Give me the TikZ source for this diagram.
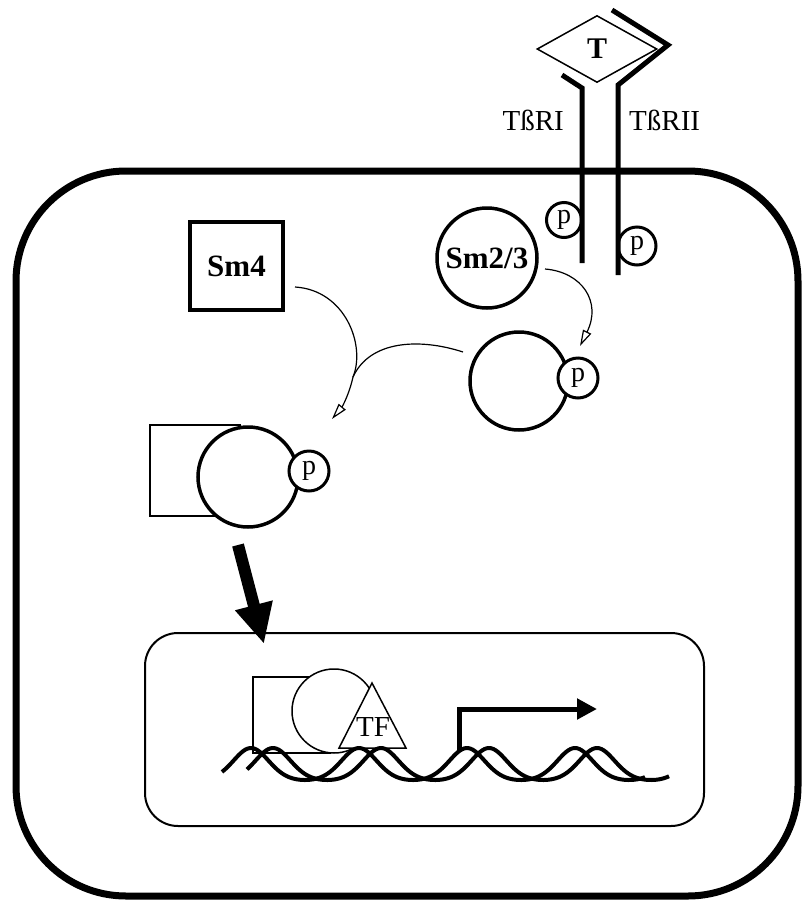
\documentclass[tikz,border=0pt]{standalone}
\usepackage{fontspec}
\setmainfont{Liberation Serif}
\usetikzlibrary{arrows.meta,shapes.geometric}
\begin{document}
\begin{tikzpicture}[x=1pt,y=-1pt,
  cellwall/.style={draw, line width=7pt, rounded corners=110pt, inner sep=0pt},
  nucwall/.style={draw, line width=2pt, rounded corners=33pt, inner sep=0pt},
  receptor/.style={line width=5pt},
  pcirc/.style={circle, draw, line width=3pt, fill=white, minimum size=38pt, inner sep=0pt, font=\fontsize{28}{28}\selectfont},
  smadc/.style={circle, draw, line width=3.5pt, fill=white, minimum size=100pt, inner sep=0pt},
  thinshape/.style={draw, line width=1.5pt, fill=white, inner sep=0pt},
  boldtxt/.style={font=\bfseries\fontsize{31}{31}\selectfont},
  rlabel/.style={font=\fontsize{29}{29}\selectfont, inner sep=0pt},
  flow/.style={line width=1.2pt, -{Triangle[open, length=16pt, width=9pt, line width=1.2pt]}},
  flowline/.style={line width=1.2pt},
  dna/.style={line width=4pt, line join=round}]
\useasboundingbox (0,0) rectangle (803,903);

% cell and nucleus
\node[cellwall, minimum width=782pt, minimum height=725pt] (cell) at (407,533.5) {};
\node[nucwall, minimum width=559pt, minimum height=193pt] (nuc) at (424.5,729.5) {};

% ligand
\node[diamond, draw, line width=1.5pt, minimum width=120pt, minimum height=67pt, inner sep=0pt, font=\bfseries\fontsize{30}{30}\selectfont] (T) at (597,49) {T};

% phospho groups on receptors
\node[pcirc, minimum size=35pt] (p1) at (564,220) {p};
\node[pcirc] (p2) at (637,246) {p};

% receptors
\coordinate (r1a) at (562,75);
\coordinate (r1b) at (582,88);
\coordinate (r1c) at (582,263);
\coordinate (r2a) at (612,10);
\coordinate (r2b) at (668,45);
\coordinate (r2c) at (618,85);
\coordinate (r2d) at (618,275);
\draw[receptor] (r1a) -- (r1b) -- (r1c);
\draw[receptor] (r2a) -- (r2b) -- (r2c) -- (r2d);
\node[rlabel, anchor=base east] (l1) at (564,130) {TßRI};
\node[rlabel, anchor=base west] (l2) at (629,130) {TßRII};

% Smads
\node[smadc, boldtxt] (sm23) at (487,258) {Sm2/3};
\node[draw, line width=3.5pt, minimum width=93pt, minimum height=88pt, inner sep=0pt, boldtxt] (sm4) at (236.5,266) {Sm4};

\node[smadc, minimum size=98pt] (psm) at (519,381) {};
\node[pcirc, minimum size=40pt] (pp) at (578,378) {p};

% cytoplasmic complex
\node[thinshape, minimum width=90pt, minimum height=91pt] (csq) at (195,470.5) {};
\node[smadc] (cc) at (248,477) {};
\node[pcirc, minimum size=40pt] (cp) at (309,471) {p};

% flow arrows
\coordinate (f1s) at (295,287);
\coordinate (fj) at (353,377);
\coordinate (f1e) at (332,419);
\coordinate (f2s) at (463,352);
\coordinate (f3s) at (545,269);
\coordinate (f3e) at (580,346);
\draw[flow] (f1s) .. controls (345,290) and (366,345) .. (fj) .. controls (349,395) and (342,407) .. (f1e);
\draw[flowline] (f2s) .. controls (420,338) and (370,340) .. (fj);
\draw[flow] (f3s) .. controls (582,272) and (602,302) .. (f3e);

% big arrow into nucleus
\coordinate (b1) at (238,545);
\coordinate (b2) at (264,644);
\draw[line width=12pt, -{Triangle[length=40pt, width=36pt]}] (b1) -- (b2);

% nuclear complex
\node[thinshape, minimum width=77pt, minimum height=76pt] (nsq) at (291.5,715) {};
\node[circle, thinshape, minimum size=84pt] (nc) at (334,711) {};
\coordinate (ta) at (372,683);
\coordinate (tb) at (339,748);
\coordinate (tc) at (406,748);
\draw[line width=1.5pt, fill=white] (ta) -- (tb) -- (tc) -- cycle;
\node[font=\fontsize{29}{29}\selectfont, inner sep=0pt] (TF) at (373,727) {TF};

% DNA
\draw[dna] plot[domain=222:645, samples=200, smooth] (\x, {764-16*cos((\x-251)/108*360+23*sin((\x-251)/108*360))});
\draw[dna] plot[domain=247:669, samples=200, smooth] (\x, {764-16*cos((\x-273)/108*360+23*sin((\x-273)/108*360))});

% transcription start
\coordinate (ts1) at (459,752);
\coordinate (ts2) at (459,709);
\coordinate (ts3) at (597,709);
\draw[line width=5pt, -{Triangle[length=20pt, width=20pt]}] (ts1) -- (ts2) -- (ts3);
\end{tikzpicture}
\end{document}
